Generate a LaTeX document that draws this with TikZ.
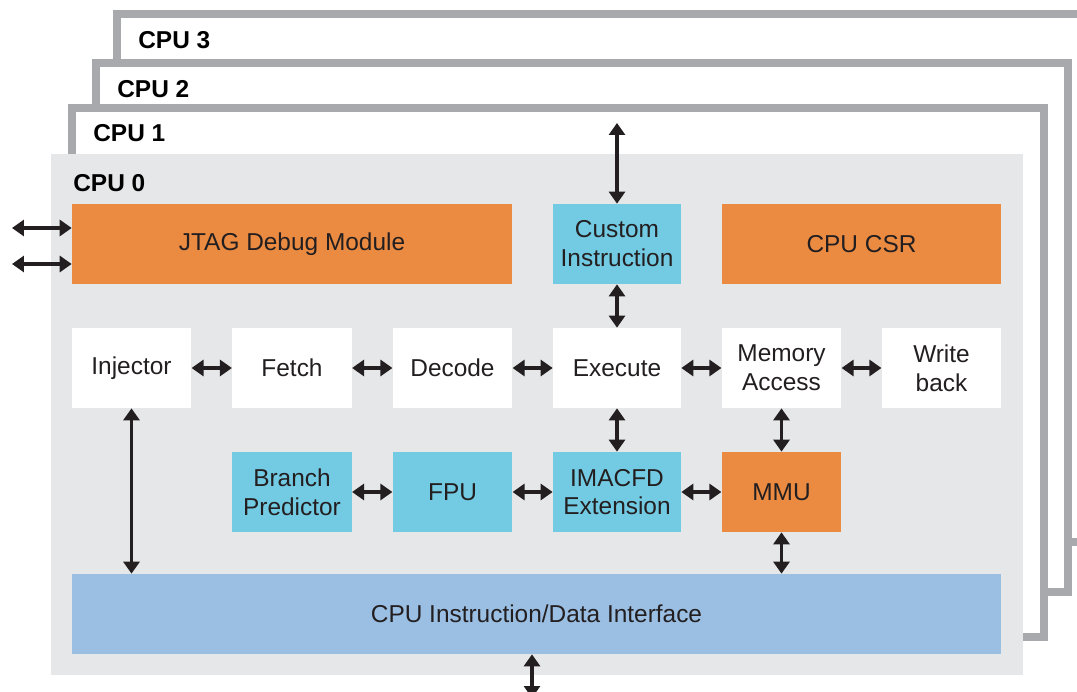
\documentclass[tikz,border=0pt]{standalone}
\usepackage{fontspec}
\setmainfont{Liberation Sans}
\usetikzlibrary{arrows.meta,positioning,calc}
\definecolor{frame}{HTML}{A7A9AC}
\definecolor{core}{HTML}{E6E7E8}
\definecolor{ink}{HTML}{231F20}
\definecolor{orangeblk}{HTML}{EB8B42}
\definecolor{cyanblk}{HTML}{72CBE3}
\definecolor{blueblk}{HTML}{9BBFE3}
\tikzset{
    backframe/.style={
        draw=frame,
        fill=white,
        line width=4.5pt
    },
    unit/.style={
        inner sep=0pt,
        minimum height=1.6cm,
        minimum width=2.39cm,
        align=center,
        text=ink,
        font=\fontsize{13.9}{16.4}\selectfont
    },
    cpulabel/.style={
        anchor=west,
        inner sep=0pt,
        text=black,
        font=\fontsize{13.9}{16.4}\selectfont\bfseries
    },
    link/.style={
        {Triangle[length=2.4mm,width=3.2mm]}-{Triangle[length=2.4mm,width=3.2mm]},
        line width=1.9pt,
        color=ink
    }
}

\begin{document}
\begin{tikzpicture}[x=0.02cm,y=-0.02cm]

    \useasboundingbox (0,0) rectangle (1077,692);
    \clip (0,0) rectangle (1077,692);

    % Back CPUs
    \draw[backframe] (117,14) rectangle (1092,542);
    \node[cpulabel] (cpu3) at (138,40) {CPU 3};

    \draw[backframe] (96,63) rectangle (1068,592);
    \node[cpulabel] (cpu2) at (117,89) {CPU 2};

    \draw[backframe] (72,108) rectangle (1044,637);
    \node[cpulabel] (cpu1) at (93,133) {CPU 1};

    % CPU 0
    \fill[core] (51,154) rectangle (1023,675);
    \node[cpulabel] (cpu0) at (73,183) {CPU 0};

    % Top row
    \node[unit,fill=orangeblk,minimum width=8.8cm]
        (jtag) at (292,244) {JTAG Debug Module};
    \node[unit,fill=cyanblk,minimum width=2.56cm]
        (custom) at (617,244) {Custom\\Instruction};
    \node[unit,fill=orangeblk,minimum width=5.58cm]
        (csr) at (861.5,244) {CPU CSR};

    % Pipeline
    \node[unit,fill=white] (injector) at (131.5,368) {Injector};
    \node[unit,fill=white] (fetch) at (292,368) {Fetch};
    \node[unit,fill=white] (decode) at (452.5,368) {Decode};
    \node[unit,fill=white,minimum width=2.56cm]
        (execute) at (617,368) {Execute};
    \node[unit,fill=white] (memacc) at (781.5,368) {Memory\\Access};
    \node[unit,fill=white] (writeback) at (941.5,368) {Write\\back};

    % Execution units
    \node[unit,fill=cyanblk] (branch) at (292,492) {Branch\\Predictor};
    \node[unit,fill=cyanblk] (fpu) at (452.5,492) {FPU};
    \node[unit,fill=cyanblk,minimum width=2.56cm]
        (imacfd) at (617,492) {IMACFD\\Extension};
    \node[unit,fill=orangeblk] (mmu) at (781.5,492) {MMU};

    % Interface
    \node[unit,fill=blueblk,minimum width=18.58cm]
        (iface) at (536.5,614) {CPU Instruction/Data Interface};

    % Free ends
    \coordinate (jtagA) at (12,228);
    \coordinate (jtagB) at (12,264);
    \coordinate (custtop) at (617,123);
    \coordinate (ifbot) at (532,698);

    % Links
    \draw[link] (jtagA) -- (jtag.west |- jtagA);
    \draw[link] (jtagB) -- (jtag.west |- jtagB);
    \draw[link] (custtop) -- (custom.north);
    \draw[link] (custom.south) -- (execute.north);

    \draw[link] (injector.east) -- (fetch.west);
    \draw[link] (fetch.east) -- (decode.west);
    \draw[link] (decode.east) -- (execute.west);
    \draw[link] (execute.east) -- (memacc.west);
    \draw[link] (memacc.east) -- (writeback.west);

    \draw[link] (execute.south) -- (imacfd.north);
    \draw[link] (memacc.south) -- (mmu.north);

    \draw[link] (branch.east) -- (fpu.west);
    \draw[link] (fpu.east) -- (imacfd.west);
    \draw[link] (imacfd.east) -- (mmu.west);

    \draw[link] (injector.south) -- (injector.south |- iface.north);
    \draw[link] (mmu.south) -- (mmu.south |- iface.north);
    \draw[link] (iface.south -| ifbot) -- (ifbot);

\end{tikzpicture}
\end{document}
